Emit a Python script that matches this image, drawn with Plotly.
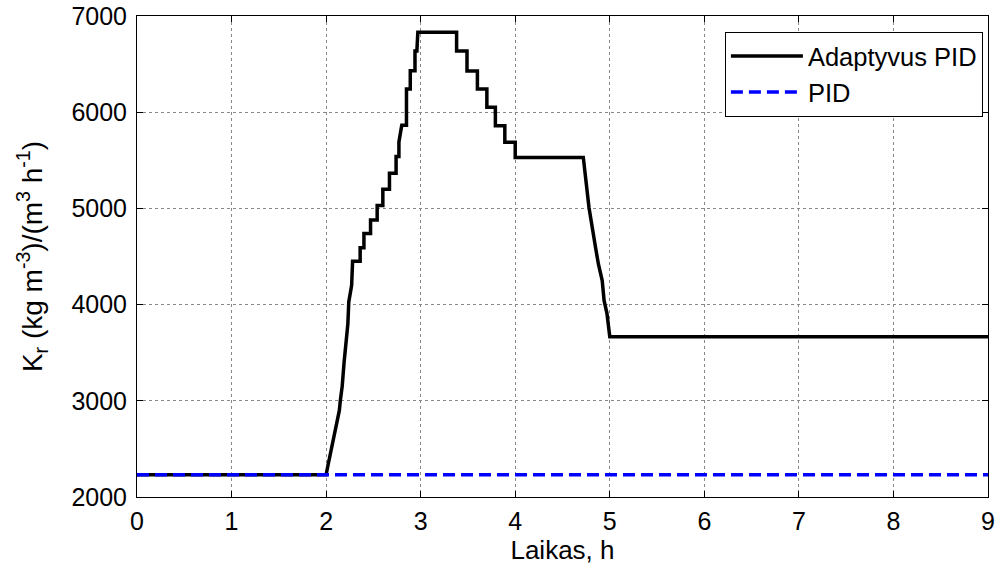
import plotly.graph_objects as go

# Adaptive PID trajectory vertices (time in h, Kr value)
adapt_t = [0, 2.0, 2.02, 2.04, 2.06, 2.08, 2.10, 2.12, 2.14, 2.15, 2.17, 2.19, 2.21, 2.23, 2.24,
           2.25, 2.27, 2.28, 2.36, 2.36, 2.40, 2.40, 2.47, 2.47, 2.54, 2.54, 2.60, 2.60, 2.67, 2.67,
           2.74, 2.74, 2.77, 2.77, 2.80, 2.85, 2.85, 2.89, 2.89, 2.94, 2.94, 2.96, 2.97, 3.38,
           3.38, 3.49, 3.49, 3.60, 3.60, 3.70, 3.70, 3.79, 3.79, 3.89, 3.89, 4.0, 4.0, 4.72,
           4.74, 4.76, 4.78, 4.85, 4.88, 4.92, 4.94, 4.97, 5.0, 9.0]
adapt_y = [2230, 2230, 2330, 2420, 2520, 2600, 2700, 2800, 2900, 3000, 3150, 3400, 3600, 3800, 4030,
           4100, 4200, 4450, 4450, 4590, 4590, 4740, 4740, 4880, 4880, 5030, 5030, 5200, 5200, 5365,
           5365, 5540, 5540, 5690, 5865, 5865, 6240, 6240, 6430, 6430, 6635, 6635, 6830, 6830,
           6635, 6635, 6427, 6427, 6240, 6240, 6052, 6052, 5860, 5860, 5688, 5688, 5530, 5530,
           5350, 5180, 5010, 4590, 4420, 4250, 4040, 3910, 3665, 3665]

pid_t = [0, 9]
pid_y = [2230, 2230]

x_ticks = [0, 1, 2, 3, 4, 5, 6, 7, 8, 9]
y_ticks = [2000, 3000, 4000, 5000, 6000, 7000]

fig = go.Figure()
fig.add_trace(go.Scatter(x=adapt_t, y=adapt_y, mode="lines", name="Adaptyvus PID",
                         line=dict(color="black", width=3.5)))
fig.add_trace(go.Scatter(x=pid_t, y=pid_y, mode="lines", name="PID",
                         line=dict(color="blue", width=3.5, dash="12px,6px")))

axis_common = dict(showline=True, linecolor="black", linewidth=1, mirror="ticks",
                   ticks="inside", ticklen=6, tickcolor="black", automargin=False,
                   showgrid=True, gridcolor="#888888", gridwidth=1, griddash="dot",
                   zeroline=False, tickfont=dict(size=25, color="black"))

fig.update_layout(
    width=1004, height=573,
    margin=dict(l=137, r=16, t=16, b=76),
    paper_bgcolor="white", plot_bgcolor="white",
    font=dict(family="Liberation Sans, Arial, sans-serif", size=25, color="black"),
    xaxis=dict(range=[0, 9], tickvals=x_ticks, ticklabelstandoff=2,
               title=dict(text="Laikas, h", standoff=3, font=dict(size=26)),
               **axis_common),
    yaxis=dict(range=[2000, 7000], tickvals=y_ticks, ticklabelstandoff=4,
               title=dict(text="K<sub>r</sub> (kg m<sup>-3</sup>)/(m<sup>3</sup> h<sup>-1</sup>)",
                          standoff=20, font=dict(size=28)),
               **axis_common),
    legend=dict(x=0.994, y=0.967, xanchor="right", yanchor="top",
                bordercolor="black", borderwidth=1, bgcolor="white",
                font=dict(size=25.5), tracegroupgap=0, itemwidth=72),
    showlegend=True,
)

fig.write_html("out.html", config={"displayModeBar": False},
               post_script="document.body.style.margin='0';")
